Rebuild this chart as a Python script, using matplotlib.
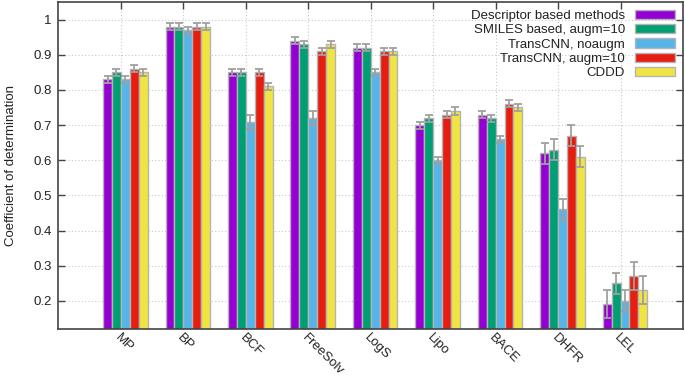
import numpy as np
import matplotlib
matplotlib.use('Agg')
from matplotlib import pyplot as plt

plt.rcParams['font.family'] = ['Liberation Sans', 'DejaVu Sans']

datasets = ['MP', 'BP', 'BCF', 'FreeSolv', 'LogS', 'Lipo', 'BACE', 'DHFR', 'LEL']

methods = ['Descriptor based methods', 'SMILES based, augm=10', 'TransCNN, noaugm',
           'TransCNN, augm=10', 'CDDD']

descriptor = [0.83, 0.98, 0.85, 0.94, 0.92, 0.70, 0.73, 0.62, 0.19]
smiles_aug = [0.85, 0.98, 0.85, 0.93, 0.92, 0.72, 0.72, 0.63, 0.25]
transcnn_noaug = [0.83, 0.97, 0.71, 0.72, 0.85, 0.60, 0.66, 0.46, 0.20]
transcnn_aug = [0.86, 0.98, 0.85, 0.91, 0.91, 0.73, 0.76, 0.67, 0.27]
cddd = [0.85, 0.98, 0.81, 0.93, 0.91, 0.74, 0.75, 0.61, 0.23]

descriptor_err = [0.01, 0.01, 0.01, 0.01, 0.01, 0.01, 0.01, 0.03, 0.04]
smiles_aug_err = [0.01, 0.01, 0.01, 0.01, 0.01, 0.01, 0.01, 0.03, 0.03]
transcnn_noaug_err = [0.01, 0.01, 0.02, 0.02, 0.01, 0.01, 0.01, 0.03, 0.03]
transcnn_aug_err = [0.01, 0.01, 0.01, 0.01, 0.01, 0.01, 0.01, 0.03, 0.04]
cddd_err = [0.01, 0.01, 0.01, 0.01, 0.01, 0.01, 0.01, 0.03, 0.04]

colors = ['#9400d3', '#009e73', '#56b4e9', '#e51e10', '#f0e442']

series = [descriptor, smiles_aug, transcnn_noaug, transcnn_aug, cddd]
errors = [descriptor_err, smiles_aug_err, transcnn_noaug_err, transcnn_aug_err, cddd_err]

fig = plt.figure(figsize=(6.85, 3.77), dpi=100)
ax = fig.add_axes([0.0854, 0.1273, 0.9116, 0.8674])

x = np.arange(len(datasets))
width = 1.0 / 7

for j, (vals, errs) in enumerate(zip(series, errors)):
    pos = x + (j - 2) * width + width / 2
    ax.bar(pos, vals, width, color=colors[j], edgecolor='#b4b4b4', linewidth=1.0,
           label=methods[j], zorder=2)
    ax.errorbar(pos, vals, yerr=errs, fmt='none', ecolor='#a0a0a0',
                elinewidth=1.3, capsize=3, capthick=1.3, zorder=3)

ax.set_xlim(-1, 9)
ax.set_ylim(0.12, 1.05)
ax.set_yticks([0.2, 0.3, 0.4, 0.5, 0.6, 0.7, 0.8, 0.9, 1.0])
ax.set_yticklabels(['0.2', '0.3', '0.4', '0.5', '0.6', '0.7', '0.8', '0.9', '1'])
ax.set_xticks(x)
ax.set_xticklabels(datasets, rotation=-45, ha='left', va='top', rotation_mode='anchor')

ax.tick_params(axis='both', direction='in', top=True, right=True, length=5,
               width=1, color='#444444', labelsize=9.5, labelcolor='#222222')
ax.tick_params(axis='x', pad=2)
ax.tick_params(axis='y', pad=5)

ax.grid(True, linestyle=(0, (1, 2)), color='#c8c8c8', linewidth=0.8, zorder=0)
ax.set_axisbelow(True)

for s in ax.spines.values():
    s.set_color('#444444')
    s.set_linewidth(1.2)

ax.set_ylabel('Coefficient of determination', fontsize=9.5, color='#222222', labelpad=12)

leg = ax.legend(loc='upper right', markerfirst=False, frameon=False, fontsize=9.5,
                handlelength=3.0, handleheight=0.7, labelspacing=0.15,
                handletextpad=0.8, borderaxespad=0.2)
for t in leg.get_texts():
    t.set_color('#222222')

fig.savefig('out.png', dpi=100)
